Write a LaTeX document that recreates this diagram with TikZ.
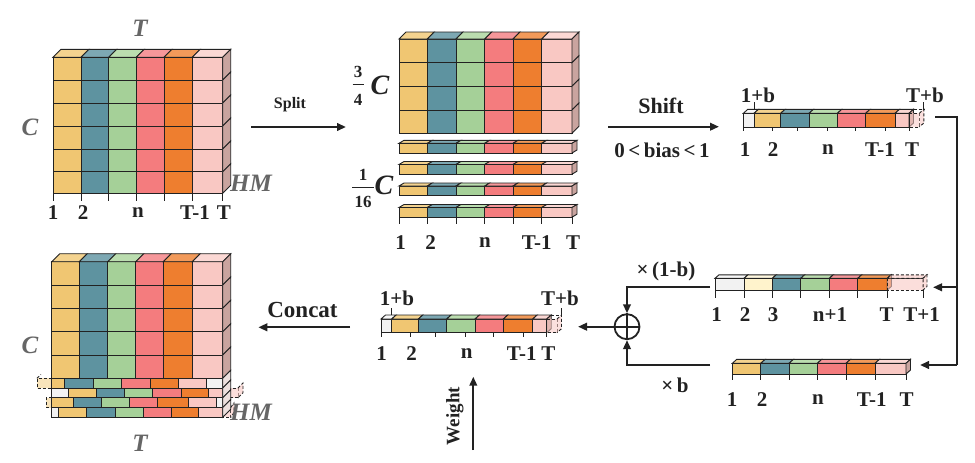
\documentclass[tikz,border=0pt]{standalone}
\usepackage{fontspec}
\setmainfont{Liberation Serif}
\usetikzlibrary{arrows.meta}
\definecolor{cy}{HTML}{F0C672}\definecolor{ty}{HTML}{F4D38F}
\definecolor{ct}{HTML}{5E93A0}\definecolor{tt}{HTML}{7DA8B3}
\definecolor{cg}{HTML}{A5D098}\definecolor{tg}{HTML}{BBDDAF}
\definecolor{cr}{HTML}{F47C7E}\definecolor{tr}{HTML}{F6979A}
\definecolor{co}{HTML}{EE7E2F}\definecolor{to}{HTML}{F29A5A}
\definecolor{cp}{HTML}{F9C8C3}\definecolor{tp}{HTML}{FBD8D4}
\definecolor{cw}{HTML}{F2F2F2}\definecolor{tw}{HTML}{F8F8F8}
\definecolor{cc}{HTML}{FFF3CC}\definecolor{tc}{HTML}{FFF8E0}
\definecolor{cside}{HTML}{C9A49F}
\definecolor{gtxt}{HTML}{666666}
\definecolor{ink}{HTML}{222222}
\newcommand\cubeblock[7]{%
  \foreach \xa/\xb/\fc/\tc in {#1}{%
    \foreach \ya/\yb in {#2}{\filldraw[cell, fill=\fc] (\xa,\ya) rectangle (\xb,\yb);}%
    \filldraw[cell, fill=\tc] (\xa,#3) -- (\xa+#4,#3-#5) -- (\xb+#4,#3-#5) -- (\xb,#3) -- cycle;%
  }%
  \foreach \ya/\yb in {#2}{\filldraw[cell, fill=#7] (#6,\ya) -- (#6+#4,\ya-#5) -- (#6+#4,\yb-#5) -- (#6,\yb) -- cycle;}%
}
\newcommand\tickset[3]{\foreach \xx in {#1}{\draw[cell] (\xx,#2) -- (\xx,#3);}}
\newcommand\shiftstrip{%
  \cubeblock{381/391.7/cw/tw,391.7/418.3/cy/ty,418.3/446.7/ct/tt,446.7/475/cg/tg,475/503.3/cr/tr,503.3/532.7/co/to,532.7/546.7/cp/tp}{319/332.7}{319}{4.5}{4}{546.7}{cside}%
  \filldraw[ghost, fill=cp, fill opacity=0.55] (546.7,319) -- (557,319) -- (557,332.7) -- (546.7,332.7);
  \filldraw[ghost, fill=cp, fill opacity=0.55] (557,319) -- (561.5,315) -- (561.5,328.7) -- (557,332.7);
  \draw[ghost] (551.2,315) -- (561.5,315);
  \tickset{381,546.7}{319}{337}%
  \tickset{410,435,465,493.3,523.3}{332.7}{337}%
  \draw[cell] (391.7,308) -- (391.7,315);
  \draw[cell] (561.5,308) -- (561.5,315);
}
\begin{document}
\begin{tikzpicture}[x=1pt,y=-1pt,
  cell/.style={draw=ink, line width=0.9pt},
  ghost/.style={draw=ink, line width=0.9pt, dash pattern=on 3pt off 2pt},
  arr/.style={draw=ink, line width=2.2pt, -{Triangle[length=9pt,width=7.5pt]}},
  ln/.style={draw=ink, line width=2.2pt},
  lab/.style={font=\fontsize{21}{21}\selectfont\bfseries, text=ink, inner sep=0pt},
  olab/.style={font=\fontsize{22}{22}\selectfont\bfseries, text=ink, inner sep=0pt},
  glab/.style={font=\fontsize{25}{25}\selectfont\bfseries\itshape, text=gtxt, inner sep=0pt},
  clab/.style={font=\fontsize{28}{28}\selectfont\bfseries\itshape, text=ink, inner sep=0pt},
  flab/.style={font=\fontsize{17}{17}\selectfont\bfseries, text=ink, inner sep=0pt}]
\path[use as bounding box, fill=white] (0,0) rectangle (975,463);

% ---------- top-left block ----------
\cubeblock{53/81/cy/ty,81/108.7/ct/tt,108.7/136.3/cg/tg,136.3/164/cr/tr,164/192.3/co/to,192.3/222.7/cp/tp}{57.3/80,80/103,103/126,126/149,149/171.7,171.7/193.3}{57.3}{8}{8}{222.7}{cside}
\tickset{53,81,108.7,136.3,164,192.3,222.7}{193.3}{200.5}
\node[glab] (tlT) at (140,28) {T};
\node[glab] (tlC) at (30,127) {C};
\node[glab] (tlHM) at (251,183) {HM};
\node[lab] (tl1) at (53,213) {1};
\node[lab] (tl2) at (83,213) {2};
\node[lab] (tln) at (138,213) {n};
\node[lab] (tlT1) at (195,213) {T-1};
\node[lab] (tlTT) at (224,213) {T};

% ---------- split arrow ----------
\coordinate (splitA) at (251,127);
\coordinate (splitB) at (346,127);
\draw[arr] (splitA) -- (splitB);
\node[olab, font=\fontsize{16}{16}\selectfont\bfseries] (splitL) at (290,105) {Split};

% ---------- middle block ----------
\cubeblock{399/427.3/cy/ty,427.3/456/ct/tt,456/484.7/cg/tg,484.7/513/cr/tr,513/541.7/co/to,541.7/572/cp/tp}{39/62.7,62.7/86.3,86.3/110,110/133.3}{39}{7}{7}{572}{cside}
\foreach \yt in {143.3,164.5,186,207.5}{%
  \cubeblock{399/427.3/cy/ty,427.3/456/ct/tt,456/484.7/cg/tg,484.7/513/cr/tr,513/541.7/co/to,541.7/572/cp/tp}{\yt/\yt+9.7}{\yt}{5}{3}{572}{cside}%
}
\tickset{399,427.3,456,484.7,513,541.7,572}{217.2}{224}
\node[flab] (f3) at (358,71.5) {3};
\node[flab] (f4) at (358,99.5) {4};
\draw[line width=1pt, draw=ink] (352.5,84) -- (363.5,84);
\node[clab] (mC1) at (380,85) {C};
\node[flab] (f1) at (363,174.5) {1};
\node[flab] (f16) at (363,201.5) {16};
\draw[line width=1pt, draw=ink] (352,187) -- (374,187);
\node[clab] (mC2) at (384,185) {C};
\node[lab] (m1) at (400.7,242.7) {1};
\node[lab] (m2) at (430.7,242.7) {2};
\node[lab] (mn) at (485,242.7) {n};
\node[lab] (mT1) at (536.7,242.7) {T-1};
\node[lab] (mTT) at (573,242.7) {T};

% ---------- shift arrow ----------
\coordinate (shiftA) at (608,126.7);
\coordinate (shiftB) at (719,126.7);
\draw[arr] (shiftA) -- (shiftB);
\node[olab] (shiftL) at (661,106) {Shift};
\node[olab, font=\fontsize{21}{21}\selectfont\bfseries] (biasL) at (662,150) {0\,<\,bias\,<\,1};

% ---------- top-right shifted strip ----------
\begin{scope}[shift={(362.3,-205.7)}]
\shiftstrip
\end{scope}
\node[lab] (tr1p) at (758,95) {1+b};
\node[lab] (trTp) at (925,95) {T+b};
\node[lab] (tr1) at (745,150) {1};
\node[lab] (tr2) at (773,150) {2};
\node[lab] (trn) at (828,150) {n};
\node[lab] (trT1) at (880,150) {T-1};
\node[lab] (trTT) at (912,150) {T};

% ---------- middle-right strip ----------
\cubeblock{715/744/cw/tw,744/772.3/cc/tc,772.3/800.7/ct/tt,800.7/829.3/cg/tg,829.3/857.7/cr/tr,857.7/887.3/co/to}{278.3/290}{278.3}{4}{3.5}{887.3}{co}
\filldraw[ghost, fill=cp, fill opacity=0.6] (887.3,278.3) rectangle (923,290);
\filldraw[ghost, fill=cp, fill opacity=0.6] (887.3,278.3) -- (891.3,274.8) -- (927,274.8) -- (923,278.3) -- cycle;
\filldraw[ghost, fill=cp, fill opacity=0.6] (923,278.3) -- (927,274.8) -- (927,286.5) -- (923,290) -- cycle;
\tickset{715,744,772.3,800.7,829.3,857.7,887.3,923}{290}{297.5}
\node[lab] (mr1) at (716.7,315) {1};
\node[lab] (mr2) at (745,315) {2};
\node[lab] (mr3) at (773,315) {3};
\node[lab] (mrn) at (830,315) {n+1};
\node[lab] (mrT) at (886.7,315) {T};
\node[lab] (mrT1) at (921.7,315) {T+1};

% ---------- bottom-right strip ----------
\cubeblock{732.3/760.7/cy/ty,760.7/789/ct/tt,789/817.3/cg/tg,817.3/846/cr/tr,846/875/co/to,875/906/cp/tp}{363.3/374}{363.3}{4.5}{4}{906}{cside}
\tickset{732.3,760.7,789,817.3,846,875,906}{374}{380}
\node[lab] (br1) at (732,400) {1};
\node[lab] (br2) at (762,400) {2};
\node[lab] (brn) at (818,400) {n};
\node[lab] (brT1) at (871.7,400) {T-1};
\node[lab] (brTT) at (906.7,400) {T};

% ---------- routing on the right ----------
\coordinate (trOut) at (935,117);
\coordinate (rc1) at (957,117);
\coordinate (rc2) at (957,287.3);
\coordinate (rc3) at (957,365);
\coordinate (mrIn) at (933,287.3);
\coordinate (brIn) at (920,365);
\draw[ln] (trOut) -- (rc1) -- (rc3);
\draw[arr] (rc3) -- (brIn);
\draw[arr] (rc2) -- (mrIn);

% ---------- plus ----------
\node[circle, draw=ink, line width=1.8pt, minimum size=25pt, inner sep=0pt] (plus) at (627,326.7) {};
\draw[draw=ink, line width=1.8pt] (plus.north) -- (plus.south) (plus.west) -- (plus.east);
\coordinate (mrOut) at (710,287.3);
\coordinate (mrK) at (627,287.3);
\coordinate (brOut) at (710,365);
\coordinate (brK) at (627,365);
\draw[arr] (mrOut) -- (mrK) -- (plus.north);
\draw[arr] (brOut) -- (brK) -- (plus.south);
\node[lab] (w1b) at (666,271.7) {×\,(1-b)};
\node[lab] (wb) at (675,385) {×\,b};
\coordinate (mbIn) at (578,326.7);
\draw[arr] (plus.west) -- (mbIn);

% ---------- middle-bottom shifted strip ----------
\shiftstrip
\node[lab] (mb1p) at (397,298) {1+b};
\node[lab] (mbTp) at (560,298) {T+b};
\node[lab] (mb1) at (381.7,353.3) {1};
\node[lab] (mb2) at (411.7,353.3) {2};
\node[lab] (mbn) at (466.7,353.3) {n};
\node[lab] (mbT1) at (521.7,353.3) {T-1};
\node[lab] (mbTT) at (548.3,353.3) {T};

% ---------- weight ----------
\coordinate (wA) at (473.3,450);
\coordinate (wB) at (473.3,376.7);
\draw[arr] (wA) -- (wB);
\node[olab, rotate=90, font=\fontsize{19}{19}\selectfont\bfseries] (wL) at (455,416) {Weight};

% ---------- concat ----------
\coordinate (catA) at (350,327.3);
\coordinate (catB) at (258.3,327.3);
\draw[arr] (catA) -- (catB);
\node[olab, font=\fontsize{23}{23}\selectfont\bfseries] (catL) at (302.5,310) {Concat};

% ---------- bottom-left block ----------
\cubeblock{51.7/79.3/cy/ty,79.3/107.7/ct/tt,107.7/135.7/cg/tg,135.7/163.3/cr/tr,163.3/192.3/co/to,192.3/222.7/cp/tp}{261.7/285,285/308.3,308.3/331.7,331.7/355,355/378.3}{261.7}{8}{8}{222.7}{cside}
% ghosts
\filldraw[ghost, fill=ty, fill opacity=0.6] (51.7,378.3) -- (37,378.3) -- (37,388) -- (51.7,388);
\draw[ghost] (37,378.3) -- (41,374.5);
\filldraw[ghost, fill=ty, fill opacity=0.6] (51.7,397.7) -- (46,397.7) -- (46,407.5) -- (51.7,407.5);
\filldraw[ghost, fill=cp, fill opacity=0.6] (222.7,388) -- (238,388) -- (238,397.7) -- (222.7,397.7);
\filldraw[ghost, fill=cp, fill opacity=0.6] (238,388) -- (243,383) -- (243,392.7) -- (238,397.7);
\filldraw[ghost, fill=cp, fill opacity=0.6] (222.7,407.5) -- (230.7,407.5) -- (230.7,417.3) -- (222.7,417.3);
\filldraw[ghost, fill=cp, fill opacity=0.6] (230.7,407.5) -- (234,403) -- (234,412.5) -- (230.7,417.3);
% strips
\foreach \ya/\yb/\cl in {378.3/388/{51.7/64/cy,64/93.3/ct,93.3/121.7/cg,121.7/150/cr,150/178.3/co,178.3/206.7/cp,206.7/222.7/cw},
  388/397.7/{51.7/68.3/cw,68.3/96/cy,96/124.3/ct,124.3/152.7/cg,152.7/181/cr,181/208.3/co,208.3/222.7/cp},
  397.7/407.5/{51.7/73.3/cy,73.3/101/ct,101/129.3/cg,129.3/157.7/cr,157.7/188.3/co,188.3/216.7/cp,216.7/222.7/cw},
  407.5/417.3/{51.7/58.3/cw,58.3/86.7/cy,86.7/115/ct,115/143.3/cg,143.3/171.7/cr,171.7/198.3/co,198.3/222.7/cp}}{%
  \foreach \xa/\xb/\fc in \cl {\filldraw[cell, fill=\fc] (\xa,\ya) rectangle (\xb,\yb);}%
  \filldraw[cell, fill=cside!35!white] (222.7,\ya) -- (230.7,\ya-8) -- (230.7,\yb-8) -- (222.7,\yb) -- cycle;%
}
\node[glab] (blC) at (30,345) {C};
\node[glab] (blT) at (140,443) {T};
\node[glab] (blHM) at (251,412) {HM};
\end{tikzpicture}
\end{document}
